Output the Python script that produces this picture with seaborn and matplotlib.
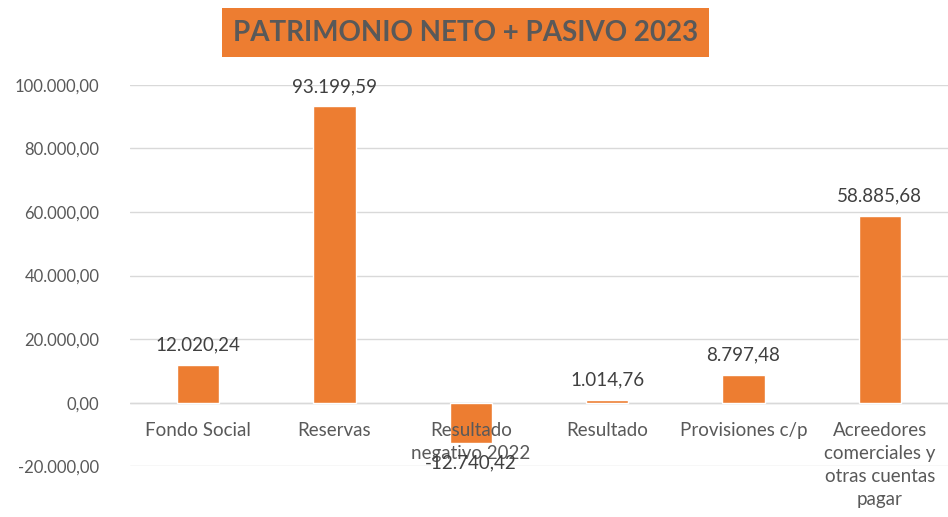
import matplotlib
matplotlib.use("Agg")
import matplotlib.pyplot as plt
import seaborn as sns
import pandas as pd

# ===============================
# DATA
# ===============================
categories = [
    "Fondo Social",
    "Reservas",
    "Resultado\nnegativo 2022",
    "Resultado",
    "Provisiones c/p",
    "Acreedores\ncomerciales y\notras cuentas\npagar",
]
values = [12020.24, 93199.59, -12740.42, 1014.76, 8797.48, 58885.68]
yticks = [-20000, 0, 20000, 40000, 60000, 80000, 100000]

ORANGE = "#ED7D31"
GRAY = "#595959"


def es_fmt(v):
    s = f"{v:,.2f}"
    return s.replace(",", "X").replace(".", ",").replace("X", ".")


df = pd.DataFrame({"cat": categories, "val": values})

# ===============================
# PLOT
# ===============================
sns.set_style("white")
plt.rcParams["font.family"] = ["Lato", "DejaVu Sans"]

fig = plt.figure(figsize=(9.48, 5.17), dpi=100)
ax = fig.add_axes([0.137, 0.098, 0.863, 0.738])

sns.barplot(data=df, x="cat", y="val", color=ORANGE, width=0.31,
            saturation=1, ax=ax, zorder=3)

ax.set_ylim(-20000, 100000)
ax.set_xlim(-0.5, len(categories) - 0.5)
ax.set_yticks(yticks)
ax.set_yticklabels([es_fmt(t) for t in yticks], fontsize=12, color=GRAY)
ax.yaxis.grid(True, color="#D9D9D9", linewidth=1, zorder=0)
ax.set_xlabel("")
ax.set_ylabel("")

for s in ["top", "right", "left", "bottom"]:
    ax.spines[s].set_visible(False)
ax.axhline(0, color="#D9D9D9", linewidth=1, zorder=1)
ax.tick_params(axis="both", length=0)
ax.tick_params(axis="y", pad=22)
ax.set_xticks([])

# category labels drawn on top of the bars (like Excel)
for i, c in enumerate(categories):
    ax.annotate(c, (i, 0), xytext=(0, -14), textcoords="offset points",
                ha="center", va="top", fontsize=13.5, color=GRAY,
                linespacing=1.42, zorder=6, annotation_clip=False)

for i, v in enumerate(values):
    if v >= 0:
        ax.annotate(es_fmt(v), (i, v), xytext=(0, 8), textcoords="offset points",
                    ha="center", va="bottom", fontsize=13.5, color="#404040",
                    zorder=7)
    else:
        ax.annotate(es_fmt(v), (i, v), xytext=(0, -8), textcoords="offset points",
                    ha="center", va="top", fontsize=13.5, color="#404040",
                    zorder=7)

fig.text(0.491, 0.937, "PATRIMONIO NETO + PASIVO 2023", ha="center", va="center",
         fontsize=20, fontweight="bold", color=GRAY,
         bbox=dict(boxstyle="square,pad=0.4", facecolor=ORANGE, edgecolor="none"))

fig.savefig("out.png", dpi=100, facecolor="white")
